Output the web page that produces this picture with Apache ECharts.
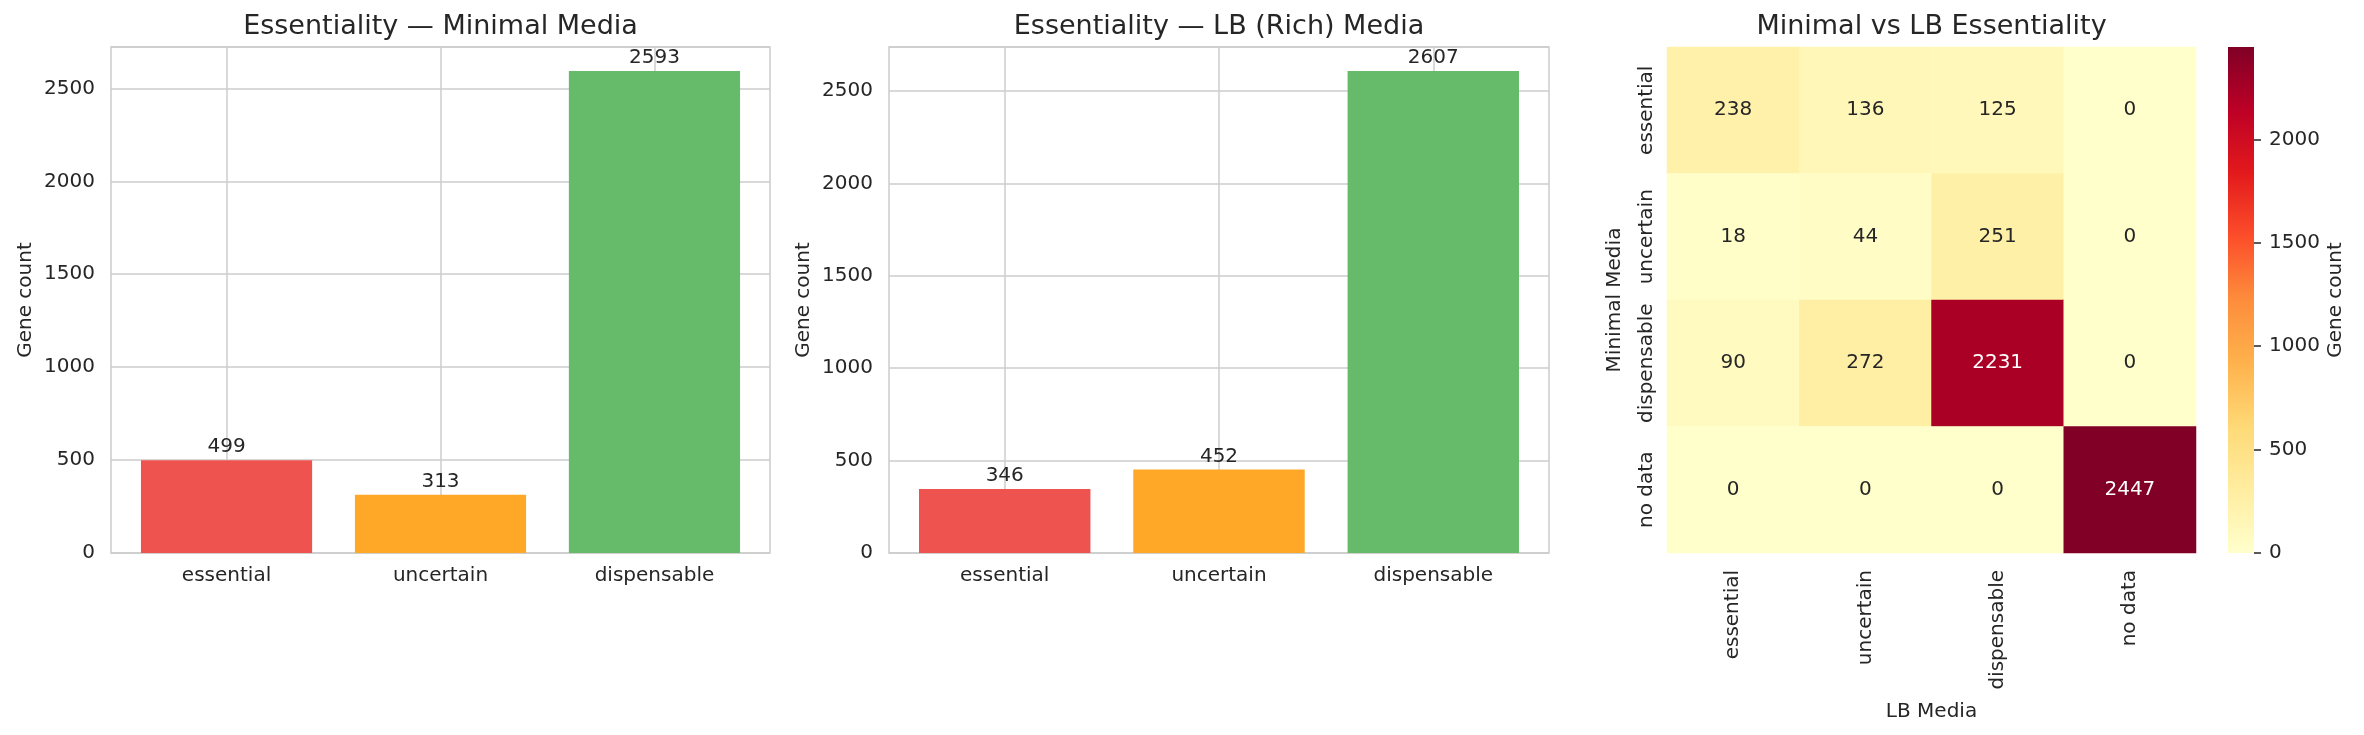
<!DOCTYPE html>
<html><head><meta charset="utf-8">
<script src="https://cdn.jsdelivr.net/npm/echarts@6/dist/echarts.min.js"></script>
<style>html,body{margin:0;padding:0;background:#fff}#c{width:2364px;height:735px}</style>
</head><body><div id="c"></div>
<script>
// ---- data ----
const categories = ['essential', 'uncertain', 'dispensable'];
const minimalCounts = [499, 313, 2593];
const lbCounts = [346, 452, 2607];
const barColors = ['#EF5350', '#FFA726', '#66BB6A'];
const heatCategories = ['essential', 'uncertain', 'dispensable', 'no data'];
const heatMatrix = [
  [238, 136, 125, 0],
  [18, 44, 251, 0],
  [90, 272, 2231, 0],
  [0, 0, 0, 2447]
];
const barTicks = [0, 500, 1000, 1500, 2000, 2500];
const cbTicks = [0, 500, 1000, 1500, 2000];
const ylorrd = ['#ffffcc', '#ffeda0', '#fed976', '#feb24c', '#fd8d3c', '#fc4e2a', '#e31a1c', '#bd0026', '#800026'];

// ---- layout / style ----
const FONT = 'DejaVu Sans';
const TXT = '#262626';
const GRIDC = '#cccccc';
const grids = [
  { left: 111, top: 47, width: 659, height: 506 },
  { left: 889, top: 47, width: 660, height: 506 },
  { left: 1667, top: 47, width: 529, height: 506 },
  { left: 2228, top: 47, width: 26, height: 506 }
];
const BAR_W = 0.8;
const xPad = BAR_W / 2 + 0.05 * (categories.length - 1 + BAR_W);
const heatMax = Math.max(...heatMatrix.flat());

function barXAxis(gi) {
  return {
    type: 'value', gridIndex: gi, min: -xPad, max: categories.length - 1 + xPad,
    axisLine: { show: false }, splitLine: { show: false },
    axisTick: { show: false, customValues: categories.map((c, i) => i) },
    axisLabel: { customValues: categories.map((c, i) => i), formatter: v => categories[Math.round(v)] || '',
      fontFamily: FONT, fontSize: 20, color: TXT, margin: 13 }
  };
}
function barYAxis(gi, maxV) {
  return {
    type: 'value', gridIndex: gi, min: 0, max: maxV * 1.05, interval: 500,
    name: 'Gene count', nameLocation: 'middle', nameGap: 75,
    nameTextStyle: { fontFamily: FONT, fontSize: 20, color: TXT },
    axisLine: { show: false }, axisTick: { show: false },
    axisLabel: { showMaxLabel: false, formatter: v => (barTicks.includes(v) ? String(v) : ''),
      fontFamily: FONT, fontSize: 20, color: TXT, margin: 16 },
    splitLine: { show: true, lineStyle: { color: GRIDC, width: 1.5 } }
  };
}
function barSeries(gi, values) {
  return {
    type: 'bar', xAxisIndex: gi, yAxisIndex: gi, z: 2,
    barWidth: grids[gi].width * BAR_W / (categories.length - 1 + 2 * xPad),
    data: values.map((v, i) => ({ value: [i, v], itemStyle: { color: barColors[i] } })),
    label: { show: true, position: 'top', distance: 3, formatter: p => String(p.value[1]),
      fontFamily: FONT, fontSize: 20, color: TXT },
    markLine: {
      silent: true, symbol: 'none', z: 1, animation: false,
      label: { show: false },
      lineStyle: { color: GRIDC, width: 1.5, type: 'solid' },
      data: categories.map((c, i) => ({ xAxis: i }))
    }
  };
}

const heatData = [];
heatMatrix.forEach((row, r) => row.forEach((v, c) => {
  heatData.push({ value: [c, r, v], label: { color: v > heatMax * 0.6 ? '#ffffff' : TXT } });
}));

const option = {
  animation: false,
  backgroundColor: '#ffffff',
  textStyle: { fontFamily: FONT },
  title: [
    { text: 'Essentiality — Minimal Media', left: grids[0].left + grids[0].width / 2 },
    { text: 'Essentiality — LB (Rich) Media', left: grids[1].left + grids[1].width / 2 },
    { text: 'Minimal vs LB Essentiality', left: grids[2].left + grids[2].width / 2 }
  ].map(t => Object.assign(t, { top: 13, padding: 0, textAlign: 'center',
    textStyle: { fontFamily: FONT, fontSize: 27, fontWeight: 'normal', color: TXT } })),
  grid: grids.map((g, i) => Object.assign({}, g, {
    show: i < 2, borderColor: GRIDC, borderWidth: 1.5, backgroundColor: 'transparent'
  })),
  xAxis: [
    barXAxis(0), barXAxis(1),
    { type: 'category', gridIndex: 2, data: heatCategories, name: 'LB Media', nameLocation: 'middle', nameGap: 149,
      nameTextStyle: { fontFamily: FONT, fontSize: 20, color: TXT },
      axisLine: { show: false }, axisTick: { show: false }, splitLine: { show: false },
      axisLabel: { interval: 0, rotate: 90, fontFamily: FONT, fontSize: 20, color: TXT, margin: 17 } },
    { type: 'category', gridIndex: 3, data: ['cb'], show: false }
  ],
  yAxis: [
    barYAxis(0, Math.max(...minimalCounts)), barYAxis(1, Math.max(...lbCounts)),
    { type: 'category', gridIndex: 2, data: heatCategories, inverse: true,
      name: 'Minimal Media', nameLocation: 'middle', nameGap: 42,
      nameTextStyle: { fontFamily: FONT, fontSize: 20, color: TXT },
      axisLine: { show: false }, axisTick: { show: false }, splitLine: { show: false },
      axisLabel: { interval: 0, rotate: 90, fontFamily: FONT, fontSize: 20, color: TXT, margin: 10 } },
    { type: 'value', gridIndex: 3, position: 'right', min: 0, max: heatMax,
      name: 'Gene count', nameLocation: 'middle', nameGap: 72,
      nameTextStyle: { fontFamily: FONT, fontSize: 20, color: TXT },
      axisLine: { show: false }, splitLine: { show: false },
      axisTick: { show: true, length: 7, customValues: cbTicks, lineStyle: { color: TXT, width: 1.5 } },
      axisLabel: { customValues: cbTicks, formatter: v => String(v),
        fontFamily: FONT, fontSize: 20, color: TXT, margin: 15 } }
  ],
  visualMap: {
    type: 'continuous', show: false, seriesIndex: 2, dimension: 2,
    min: 0, max: heatMax, inRange: { color: ylorrd }
  },
  series: [
    barSeries(0, minimalCounts),
    barSeries(1, lbCounts),
    { type: 'heatmap', xAxisIndex: 2, yAxisIndex: 2, data: heatData,
      itemStyle: { borderWidth: 0 },
      label: { show: true, formatter: p => String(p.value[2]), fontFamily: FONT, fontSize: 20 } },
    { type: 'bar', xAxisIndex: 3, yAxisIndex: 3, barWidth: '100%', data: [heatMax], silent: true,
      itemStyle: { color: { type: 'linear', x: 0, y: 1, x2: 0, y2: 0,
        colorStops: ylorrd.map((c, i) => ({ offset: i / (ylorrd.length - 1), color: c })) } } }
  ]
};
const chart = echarts.init(document.getElementById('c'), null, { renderer: 'canvas' });
chart.setOption(option);
</script>
</body></html>
